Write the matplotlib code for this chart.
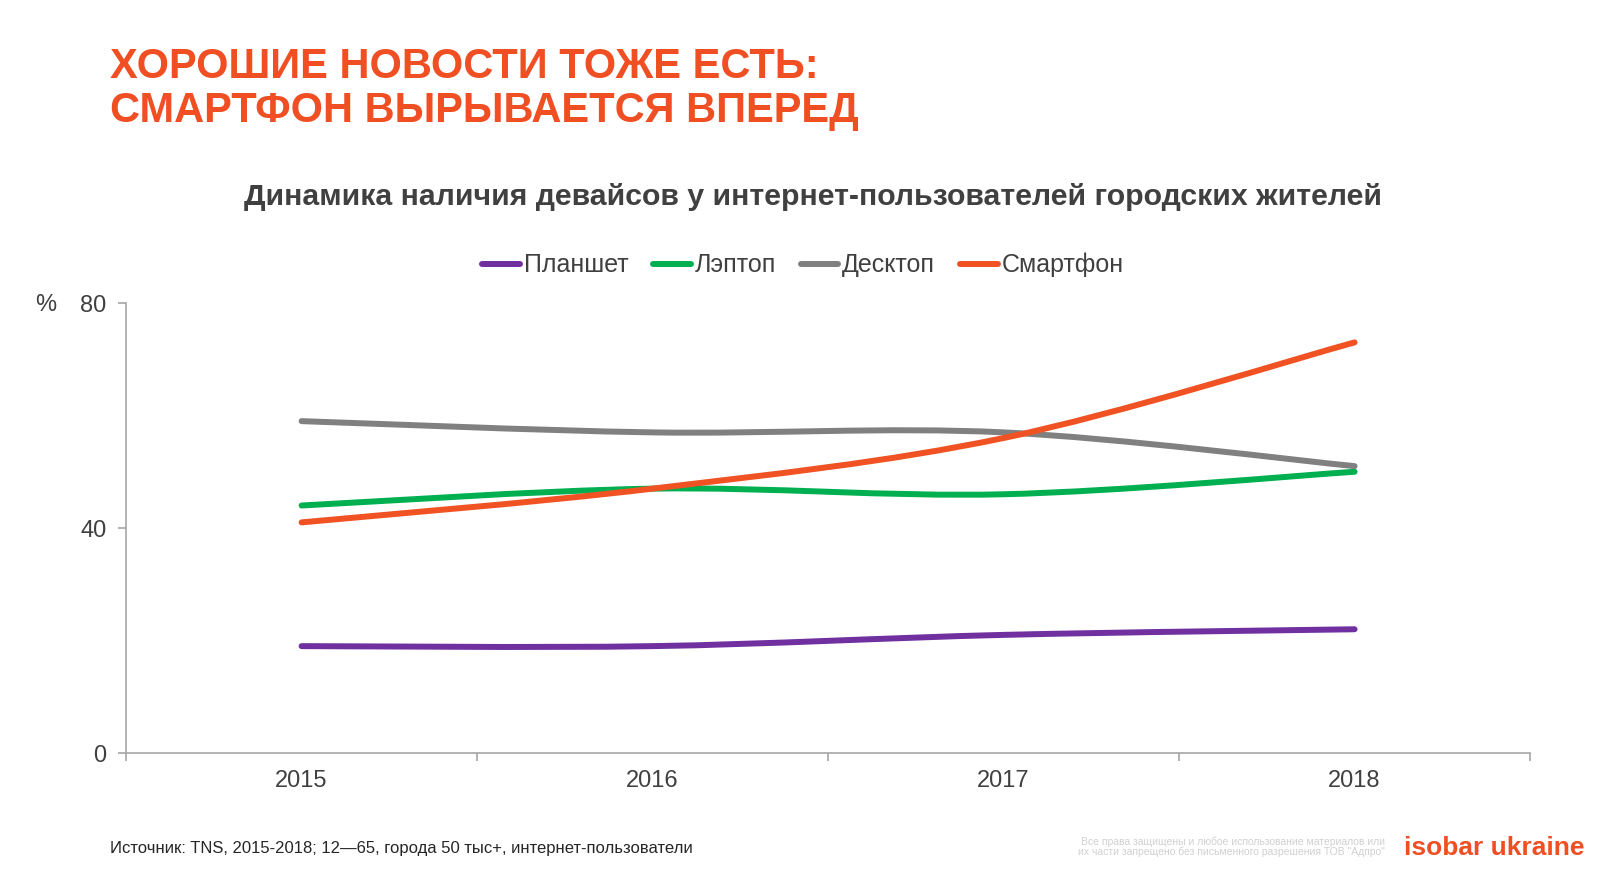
import matplotlib
matplotlib.use("Agg")
import matplotlib.pyplot as plt
from matplotlib.path import Path
from matplotlib.patches import PathPatch
from matplotlib.lines import Line2D

plt.rcParams["font.family"] = ["Liberation Sans", "DejaVu Sans"]

years = ["2015", "2016", "2017", "2018"]
tablet = [19, 19, 21, 22]
laptop = [44, 47, 46, 50]
desktop = [59, 57, 57, 51]
smartphone = [41, 47, 56, 73]

series = [
    ("Планшет", tablet, "#7030A0"),
    ("Лэптоп", laptop, "#00B050"),
    ("Десктоп", desktop, "#808080"),
    ("Смартфон", smartphone, "#F05223"),
]

ORANGE = "#F04E23"
DARK = "#404040"
AXIS = "#A6A6A6"


def smooth_path(xs, ys):
    # Catmull-Rom style bezier, like the smoothed lines of office charts
    pts = list(zip(xs, ys))
    verts = [pts[0]]
    codes = [Path.MOVETO]
    n = len(pts)
    for i in range(n - 1):
        p0 = pts[max(i - 1, 0)]
        p1 = pts[i]
        p2 = pts[i + 1]
        p3 = pts[min(i + 2, n - 1)]
        c1 = (p1[0] + (p2[0] - p0[0]) / 6, p1[1] + (p2[1] - p0[1]) / 6)
        c2 = (p2[0] - (p3[0] - p1[0]) / 6, p2[1] - (p3[1] - p1[1]) / 6)
        verts += [c1, c2, p2]
        codes += [Path.CURVE4] * 3
    return Path(verts, codes)


fig = plt.figure(figsize=(16, 8.76), dpi=100)
ax = fig.add_axes([0.0788, 0.1404, 0.8775, 0.5137])

x = list(range(len(years)))
for name, vals, color in series:
    ax.add_patch(PathPatch(smooth_path(x, vals), fill=False, edgecolor=color,
                           lw=4.3, capstyle="round", joinstyle="round"))

ax.set_xlim(-0.5, len(years) - 0.5)
ax.set_ylim(0, 80)
ax.set_yticks([0, 40, 80])
ax.set_xticks([i - 0.5 for i in range(len(years) + 1)])
ax.set_xticklabels([])
for i, yr in enumerate(years):
    ax.text(i, -4.9, yr, ha="center", va="center", fontsize=17, color=DARK)

for s in ("top", "right"):
    ax.spines[s].set_visible(False)
for s in ("left", "bottom"):
    ax.spines[s].set_color(AXIS)
    ax.spines[s].set_linewidth(1.2)
ax.tick_params(axis="both", colors=AXIS, length=6, width=1.2)
ax.tick_params(axis="y", labelcolor=DARK, labelsize=17, pad=8)

fig.text(46 / 1600, 1 - 305 / 876, "%", fontsize=17, color=DARK,
         ha="center", va="center")

# headline
fig.text(110 / 1600, 1 - 78 / 876, "ХОРОШИЕ НОВОСТИ ТОЖЕ ЕСТЬ:",
         fontsize=30, fontweight="bold", color=ORANGE, ha="left", va="baseline")
fig.text(110 / 1600, 1 - 122 / 876, "СМАРТФОН ВЫРЫВАЕТСЯ ВПЕРЕД",
         fontsize=30, fontweight="bold", color=ORANGE, ha="left", va="baseline")

fig.text(813 / 1600, 1 - 205 / 876,
         "Динамика наличия девайсов у интернет-пользователей городских жителей",
         fontsize=21.8, fontweight="bold", color=DARK, ha="center", va="baseline")

handles = [Line2D([], [], color=c, lw=4.3, solid_capstyle="round") for _, _, c in series]
leg = fig.legend(handles, [n for n, _, _ in series], loc="center",
                 bbox_to_anchor=(803 / 1600, 1 - 265 / 876), ncol=4, frameon=False,
                 fontsize=18, handlelength=1.5, handletextpad=0.15, columnspacing=1.0)
for t in leg.get_texts():
    t.set_color(DARK)

fig.text(110 / 1600, 1 - 849 / 876,
         "Источник: TNS, 2015-2018; 12—65, города 50 тыс+, интернет-пользователи",
         fontsize=12, color="#262626", ha="left", va="center")

fig.text(1385 / 1600, 1 - 842 / 876,
         "Все права защищены и любое использование материалов или",
         fontsize=7.5, color="#D0D0D0", ha="right", va="center")
fig.text(1385 / 1600, 1 - 852 / 876,
         "их части запрещено без письменного разрешения ТОВ \"Адпро\"",
         fontsize=7.5, color="#D0D0D0", ha="right", va="center")
fig.text(1584 / 1600, 1 - 848 / 876, "isobar ukraine", fontsize=19,
         fontweight="bold", color=ORANGE, ha="right", va="center")

fig.savefig("out.png", dpi=100)
